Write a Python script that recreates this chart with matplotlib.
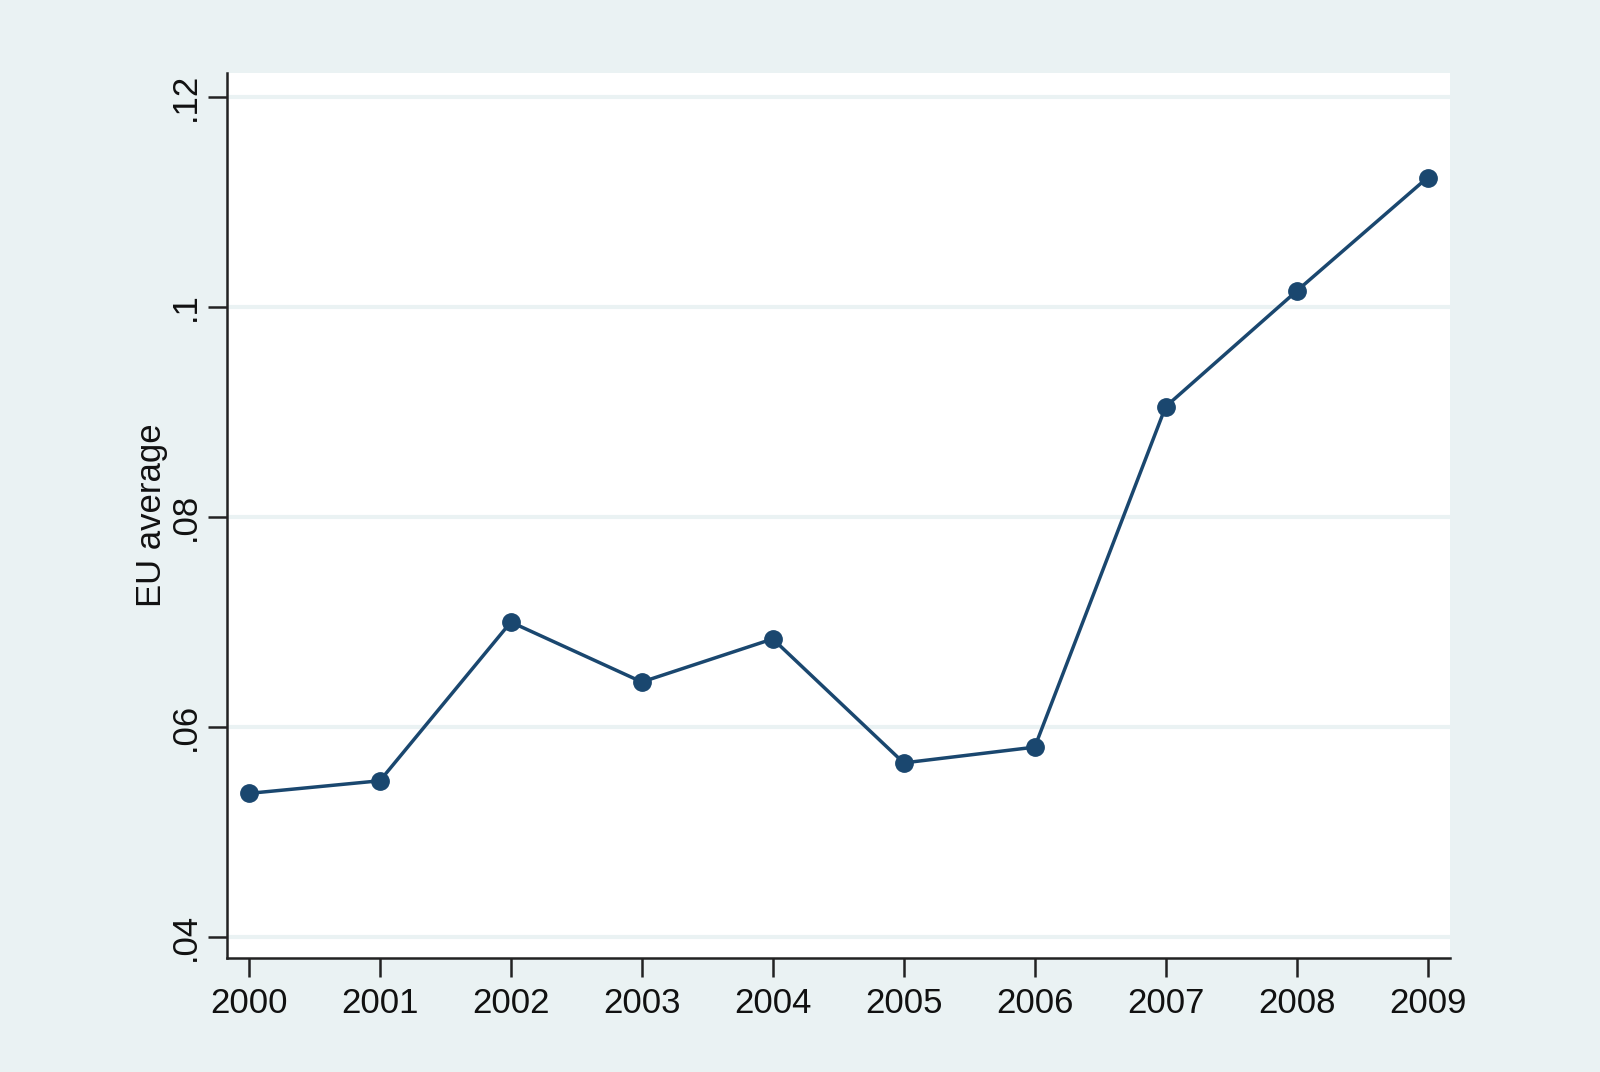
import matplotlib
matplotlib.use("Agg")
import matplotlib.pyplot as plt

# EU average per year
years = [2000, 2001, 2002, 2003, 2004, 2005, 2006, 2007, 2008, 2009]
eu_avg = [0.0537, 0.0549, 0.0700, 0.0643, 0.0684, 0.0566, 0.0581, 0.0905, 0.1015, 0.1123]

y_ticks = [0.04, 0.06, 0.08, 0.10, 0.12]
y_tick_labels = [".04", ".06", ".08", ".1", ".12"]

BG = "#EAF2F3"
NAVY = "#1A476F"

plt.rcParams["font.family"] = ["Liberation Sans", "DejaVu Sans"]

fig = plt.figure(figsize=(16, 10.72), dpi=100, facecolor=BG)
ax = fig.add_axes([0.142, 0.1063, 0.764, 0.8256])
ax.set_facecolor("white")

ax.plot(years, eu_avg, color=NAVY, linewidth=2.5, marker="o",
        markersize=12.5, markerfacecolor=NAVY, markeredgecolor=NAVY, zorder=3)

ax.set_xlim(1999.834, 2009.168)
ax.set_ylim(0.03803, 0.12225)
ax.set_xticks(years)
ax.set_xticklabels([str(y) for y in years])
ax.set_yticks(y_ticks)
ax.set_yticklabels(y_tick_labels, rotation=90, va="center")

ax.grid(axis="y", color=BG, linewidth=3, zorder=0)
ax.set_axisbelow(True)

for side in ["top", "right"]:
    ax.spines[side].set_visible(False)
for side in ["left", "bottom"]:
    ax.spines[side].set_color("#222222")
    ax.spines[side].set_linewidth(1.8)

ax.tick_params(axis="both", direction="out", length=14, width=1.8,
               color="#222222", labelsize=25, labelcolor="#111111")
ax.tick_params(axis="x", pad=7)
ax.tick_params(axis="y", pad=4)

ax.set_ylabel("EU average", fontsize=25, color="#111111", labelpad=1)

fig.savefig("out.png", dpi=100, facecolor=BG)
